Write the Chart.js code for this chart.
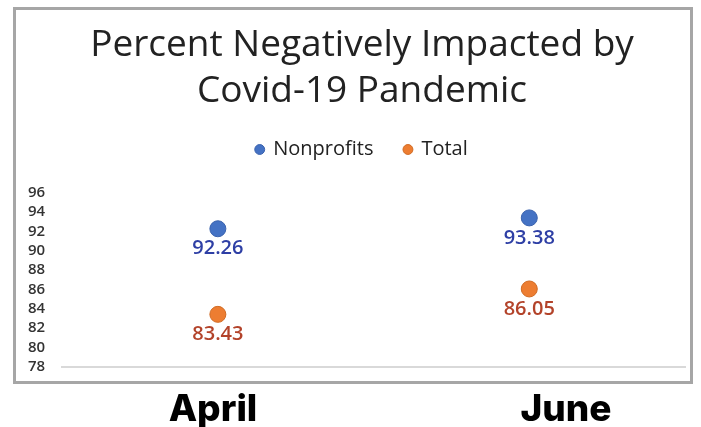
<!DOCTYPE html>
<html><head><meta charset="utf-8">
<script src="https://cdn.jsdelivr.net/npm/chart.js@4"></script>
<style>
html,body{margin:0;padding:0;background:#fff;}
#wrap{position:relative;width:701px;height:427px;overflow:hidden;}
#c{position:absolute;left:0;top:0;}
#box{position:absolute;left:13px;top:7px;width:674px;height:371px;border:3px solid #a6a6a6;pointer-events:none;}
.mon{position:absolute;top:388px;line-height:40px;font-family:Inter,Lato,sans-serif;font-weight:800;font-size:37px;color:#000;transform:translateX(-50%);white-space:nowrap;}
</style></head>
<body><div id="wrap"><canvas id="c" width="701" height="427"></canvas><div id="box"></div>
<div class="mon" id="m0" style="left:213px"></div><div class="mon" id="m1" style="left:566px"></div></div>
<script>
const categories = ["April", "June"];
const nonprofits = [92.26, 93.38];
const total = [83.43, 86.05];
const titleLines = ["Percent Negatively Impacted by", "Covid-19 Pandemic"];
const yMin = 78, yMax = 96, yStep = 2;

document.getElementById('m0').textContent = categories[0];
document.getElementById('m1').textContent = categories[1];

const labelPlugin = {
  id: 'pointLabels',
  afterDatasetsDraw(chart) {
    const ctx = chart.ctx;
    chart.data.datasets.forEach((ds, i) => {
      const meta = chart.getDatasetMeta(i);
      meta.data.forEach((pt, j) => {
        ctx.save();
        ctx.font = '600 20px "Open Sans", sans-serif';
        ctx.fillStyle = ds.labelColor;
        ctx.textAlign = 'center';
        ctx.textBaseline = 'middle';
        ctx.fillText(ds.data[j].toFixed(2), pt.x, pt.y + 20);
        ctx.restore();
      });
    });
  }
};

const headerTweak = {
  id: 'headerTweak',
  beforeInit(chart) {
    const lg = chart.legend;
    if (!lg) return;
    const orig = lg.fit;
    lg.fit = function () { orig.call(this); this.height += 23; };
  },
  afterLayout(chart) {
    if (chart.legend) { chart.legend.left += 14; chart.legend.right += 14; }
    if (chart.titleBlock) { chart.titleBlock.left += 14; chart.titleBlock.right += 14; }
  }
};

new Chart(document.getElementById('c'), {
  type: 'line',
  data: {
    labels: categories,
    datasets: [
      { label: 'Nonprofits', data: nonprofits, showLine: false, pointRadius: 8, pointHoverRadius: 8,
        backgroundColor: '#4472c4', borderColor: '#3a62ad', pointBorderWidth: 1, labelColor: '#2e3fa5' },
      { label: 'Total', data: total, showLine: false, pointRadius: 8, pointHoverRadius: 8,
        backgroundColor: '#ed7d31', borderColor: '#d06a22', pointBorderWidth: 1, labelColor: '#b3432a' }
    ]
  },
  options: {
    responsive: false,
    animation: false,
    events: [],
    layout: { padding: { left: 11, right: 16, top: 14, bottom: 52 } },
    plugins: {
      title: { display: true, text: titleLines, color: '#222', font: { family: '"Open Sans", sans-serif', size: 37, weight: 'normal', lineHeight: 1.25 }, padding: { top: 8, bottom: -6 } },
      legend: { display: true, position: 'top',
        labels: { usePointStyle: true, pointStyle: 'circle', boxWidth: 7, boxHeight: 7, color: '#222', padding: 31, font: { family: '"Open Sans", sans-serif', size: 20 } } },
      tooltip: { enabled: false }
    },
    scales: {
      x: { type: 'category', offset: true, grid: { display: false }, border: { display: true, color: '#d9d9d9', width: 2 }, ticks: { display: false } },
      y: { min: yMin, max: yMax, grid: { display: false, drawTicks: false }, border: { display: false },
        ticks: { stepSize: yStep, autoSkip: false, color: '#333', padding: 17, font: { family: '"Open Sans", sans-serif', size: 15, weight: '600', lineHeight: 1 } } }
    }
  },
  plugins: [labelPlugin, headerTweak]
});
</script></body></html>
